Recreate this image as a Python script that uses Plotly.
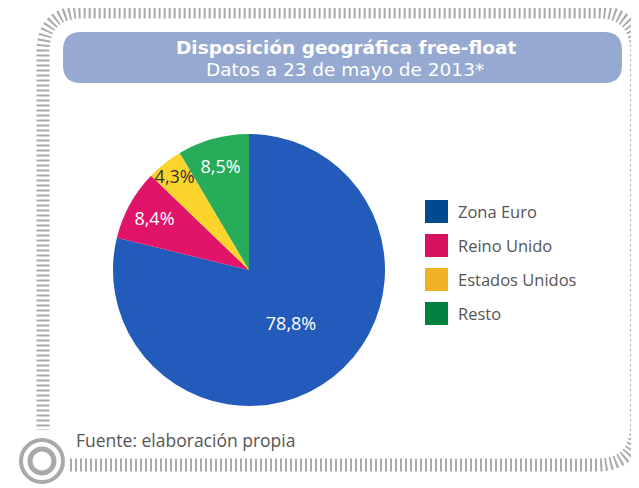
import plotly.graph_objects as go

# datos
regiones = ['Zona Euro', 'Reino Unido', 'Estados Unidos', 'Resto']
porcentajes = [78.8, 8.4, 4.3, 8.5]
etiquetas = ['78,8%', '8,4%', '4,3%', '8,5%']
colores_pie = ['#235bbb', '#e2146a', '#fcd52c', '#27ad5a']
colores_leyenda = ['#004a8f', '#d6125f', '#f2b227', '#00803e']
color_texto = ['white', 'white', '#333333', 'white']

W, H = 639, 488
OFF = 8  # el body de la pagina tiene 8px de margen
fuente = 'Open Sans'
fuente_tit = 'DejaVu Sans'


def px(x):
    return (x - OFF) / W


def py(y):
    return 1 - (y - OFF) / H


fig = go.Figure()

# pie: empieza a las 12 y va en sentido horario
cx, cy, rad = 249, 270, 136
fig.add_trace(go.Pie(
    labels=regiones, values=porcentajes, text=etiquetas,
    textinfo='text', textposition='inside', insidetextorientation='horizontal',
    textfont=dict(family=fuente, size=18, color=color_texto),
    marker=dict(colors=colores_pie, line=dict(width=0)),
    sort=False, direction='clockwise', rotation=0,
    domain=dict(x=[px(cx - rad), px(cx + rad)], y=[py(cy + rad), py(cy - rad)]),
    showlegend=False, hoverinfo='label+percent',
))

# ejes invisibles en pixeles de pantalla para dibujar el marco
fig.update_xaxes(range=[OFF, OFF + W], visible=False, fixedrange=True)
fig.update_yaxes(range=[OFF + H, OFF], visible=False, fixedrange=True)

# marco de rayitas con esquinas redondeadas
x0, x1, y0, y1, r = 43, 636.5, 12, 465, 40
marco = (f'M 70 {y1} L {x1 - r} {y1} Q {x1} {y1} {x1} {y1 - r} '
         f'L {x1} {y0 + r} Q {x1} {y0} {x1 - r} {y0} '
         f'L {x0 + r} {y0} Q {x0} {y0} {x0} {y0 + r} L {x0} 430')
fig.add_shape(type='path', path=marco, xref='x', yref='y',
              line=dict(color='#a9a9a9', width=13, dash='2px,3px'))

# circulos de la esquina
fig.add_shape(type='circle', xref='x', yref='y', x0=42 - 21, x1=42 + 21, y0=461 - 21, y1=461 + 21,
              line=dict(color='#a9a9a9', width=4), fillcolor='white')
fig.add_shape(type='circle', xref='x', yref='y', x0=42 - 12, x1=42 + 12, y0=461 - 12, y1=461 + 12,
              line=dict(color='#a9a9a9', width=5), fillcolor='white')

# caja del titulo
bx0, bx1, by0, by1, br = 63, 622, 32, 83, 18
caja = (f'M {bx0 + br} {by0} L {bx1 - br} {by0} Q {bx1} {by0} {bx1} {by0 + br} '
        f'L {bx1} {by1 - br} Q {bx1} {by1} {bx1 - br} {by1} '
        f'L {bx0 + br} {by1} Q {bx0} {by1} {bx0} {by1 - br} '
        f'L {bx0} {by0 + br} Q {bx0} {by0} {bx0 + br} {by0} Z')
fig.add_shape(type='path', path=caja, xref='x', yref='y',
              fillcolor='#96a9d1', line=dict(width=0))

fig.add_annotation(x=346, y=47, xref='x', yref='y', showarrow=False,
                   text='<b>Disposición geográfica free-float</b>',
                   font=dict(family=fuente_tit, size=18.5, color='white'))
fig.add_annotation(x=345, y=69, xref='x', yref='y', showarrow=False,
                   text='Datos a 23 de mayo de 2013*',
                   font=dict(family=fuente_tit, size=18.5, color='white'))

# leyenda hecha a mano
for i, (reg, col) in enumerate(zip(regiones, colores_leyenda)):
    yc = 211.5 + i * 34
    fig.add_shape(type='rect', xref='x', yref='y', x0=425, x1=448, y0=yc - 11.5, y1=yc + 11.5,
                  fillcolor=col, line=dict(width=0))
    fig.add_annotation(x=456, y=yc, xref='x', yref='y', showarrow=False, xanchor='left',
                       text=reg, font=dict(family=fuente, size=16.5, color='#555555'))

fig.add_annotation(x=74, y=440, xref='x', yref='y', showarrow=False, xanchor='left',
                   text='Fuente: elaboración propia',
                   font=dict(family=fuente, size=17.5, color='#555555'))

fig.update_layout(width=W, height=H, margin=dict(l=0, r=0, t=0, b=0),
                  paper_bgcolor='white', plot_bgcolor='white',
                  uniformtext=dict(minsize=18, mode='show'))

fig.write_html('out.html')
